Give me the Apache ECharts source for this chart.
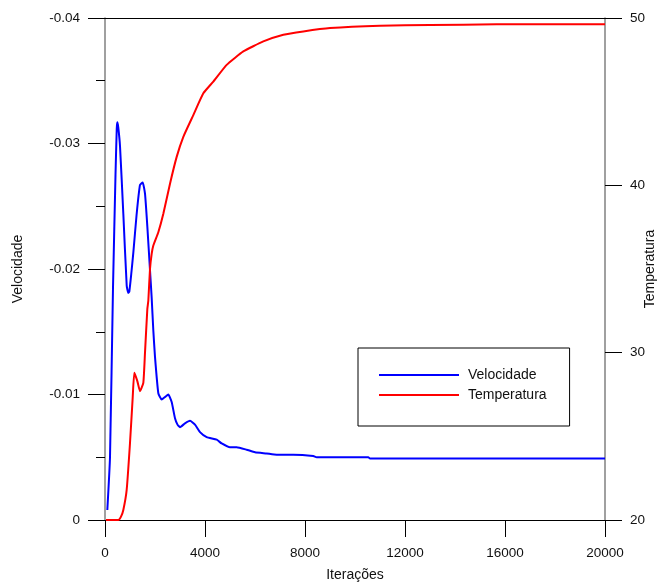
<!DOCTYPE html>
<html>
<head>
<meta charset="utf-8">
<script src="https://cdn.jsdelivr.net/npm/echarts@6/dist/echarts.min.js"></script>
<style>
html,body{margin:0;padding:0;background:#fff;}
#chart{width:660px;height:582px;}
</style>
</head>
<body>
<div id="chart"></div>
<script>
// Velocidade series (iterations, value)
var velIter = [93, 200, 320, 420, 470, 493, 530, 600, 733, 867, 930, 973, 1050, 1133, 1267, 1400, 1507, 1600, 1693, 1800, 1867, 1933, 2000, 2133, 2267, 2400, 2533, 2667, 2800, 2900, 3000, 3200, 3400, 3600, 3800, 4067, 4467, 4667, 5000, 5267, 5667, 6000, 6467, 6867, 7533, 8333, 8467, 10533, 10600, 20000];
var velVals = [-0.0008, -0.0050, -0.0185, -0.0275, -0.0312, -0.0317, -0.0313, -0.0298, -0.0244, -0.0187, -0.0181, -0.0182, -0.0196, -0.0213, -0.0244, -0.0267, -0.0269, -0.0260, -0.0234, -0.0199, -0.0177, -0.0151, -0.0130, -0.0101, -0.0096, -0.0098, -0.0100, -0.0094, -0.0081, -0.0076, -0.0074, -0.0077, -0.0079, -0.0076, -0.0070, -0.0066, -0.0064, -0.0061, -0.0058, -0.0058, -0.0056, -0.0054, -0.0053, -0.0052, -0.0052, -0.0051, -0.0050, -0.0050, -0.0049, -0.0049];

// Temperatura series (iterations, value)
var tempIter = [40, 533, 640, 733, 867, 1000, 1107, 1173, 1293, 1400, 1533, 1600, 1693, 1733, 1800, 1867, 1933, 2133, 2333, 2600, 2867, 3133, 3533, 3933, 4333, 4867, 5533, 6333, 7133, 7933, 9000, 11000, 13000, 15667, 20000];
var tempVals = [20.0, 20.0, 20.2, 20.6, 21.8, 24.6, 27.3, 28.8, 28.3, 27.7, 28.2, 30.0, 32.6, 33.1, 35.0, 35.9, 36.4, 37.2, 38.3, 40.1, 41.7, 42.9, 44.2, 45.5, 46.2, 47.2, 48.0, 48.6, 49.0, 49.2, 49.4, 49.54, 49.58, 49.62, 49.62];

// Axis ticks
var xTicks = [0, 4000, 8000, 12000, 16000, 20000];
var velTicks = [-0.04, -0.03, -0.02, -0.01, 0];
var tempTicks = [20, 30, 40, 50];

var seriesNames = ['Velocidade', 'Temperatura'];
var xName = 'Iterações';

function pairs(xs, ys) {
  var out = [];
  for (var i = 0; i < xs.length; i++) out.push([xs[i], ys[i]]);
  return out;
}

var FONT = '"Liberation Sans", Arial, Helvetica, sans-serif';
var chart = echarts.init(document.getElementById('chart'), null, {renderer: 'canvas'});

var option = {
  backgroundColor: '#fff',
  animation: false,
  textStyle: {fontFamily: FONT},
  grid: {left: 105, right: 55, top: 18, bottom: 62, containLabel: false, outerBoundsMode: 'none'},
  legend: {
    orient: 'vertical',
    left: 358,
    top: 348,
    padding: [19, 23, 23, 21],
    itemWidth: 80,
    itemHeight: 2,
    icon: 'rect',
    itemGap: 4,
    borderColor: '#000',
    borderWidth: 1,
    textStyle: {fontSize: 14, color: '#111', fontFamily: FONT, padding: [0, 0, 0, 4], lineHeight: 16},
    data: seriesNames
  },
  xAxis: [{
    type: 'value',
    min: xTicks[0],
    max: xTicks[xTicks.length - 1],
    interval: xTicks[1] - xTicks[0],
    name: xName,
    nameLocation: 'middle',
    nameGap: 48,
    nameMoveOverlap: false,
    nameTextStyle: {fontSize: 14, color: '#111', fontFamily: FONT},
    axisLine: {show: true, onZero: false, lineStyle: {color: '#000', width: 1}},
    axisTick: {show: true, inside: false, length: 17, lineStyle: {color: '#000'}},
    axisLabel: {margin: 26, fontSize: 13.5, color: '#111', fontFamily: FONT,
      formatter: function (v) { return String(v); }},
    splitLine: {show: false}
  }, {
    type: 'value',
    position: 'top',
    min: xTicks[0],
    max: xTicks[xTicks.length - 1],
    axisLine: {show: true, onZero: false, lineStyle: {color: '#000', width: 1}},
    axisTick: {show: false},
    axisLabel: {show: false},
    splitLine: {show: false}
  }],
  yAxis: [{
    type: 'value',
    position: 'left',
    min: velTicks[0],
    max: velTicks[velTicks.length - 1],
    interval: 0.01,
    inverse: true,
    name: seriesNames[0],
    nameLocation: 'middle',
    nameRotate: 90,
    nameGap: 80,
    nameMoveOverlap: false,
    nameTextStyle: {fontSize: 14, color: '#111', fontFamily: FONT},
    axisLine: {show: true, onZero: false, lineStyle: {color: '#808080', width: 1.5}},
    axisTick: {show: true, inside: false, length: 17, lineStyle: {color: '#000'}},
    minorTick: {show: true, splitNumber: 2, length: 9, lineStyle: {color: '#000'}},
    axisLabel: {
      margin: 25, fontSize: 13.5, color: '#111', fontFamily: FONT,
      formatter: function (v) { return Math.abs(v) < 1e-9 ? '0' : v.toFixed(2); }
    },
    splitLine: {show: false}
  }, {
    type: 'value',
    position: 'right',
    min: tempTicks[0],
    max: tempTicks[tempTicks.length - 1],
    interval: 10,
    name: seriesNames[1],
    nameLocation: 'middle',
    nameRotate: 90,
    nameGap: 38,
    nameMoveOverlap: false,
    nameTextStyle: {fontSize: 14, color: '#111', fontFamily: FONT},
    axisLine: {show: true, onZero: false, lineStyle: {color: '#808080', width: 1.5}},
    axisTick: {show: true, inside: false, length: 17, lineStyle: {color: '#000'}},
    axisLabel: {margin: 25, fontSize: 13.5, color: '#111', fontFamily: FONT},
    splitLine: {show: false}
  }],
  series: [{
    name: seriesNames[0],
    type: 'line',
    xAxisIndex: 0,
    yAxisIndex: 0,
    symbol: 'none',
    showSymbol: false,
    smooth: 0.15,
    lineStyle: {color: '#0000ff', width: 2},
    itemStyle: {color: '#0000ff'},
    data: pairs(velIter, velVals)
  }, {
    name: seriesNames[1],
    type: 'line',
    xAxisIndex: 0,
    yAxisIndex: 1,
    symbol: 'none',
    showSymbol: false,
    smooth: 0.15,
    lineStyle: {color: '#ff0000', width: 2},
    itemStyle: {color: '#ff0000'},
    data: pairs(tempIter, tempVals)
  }]
};
chart.setOption(option);
</script>
</body>
</html>
